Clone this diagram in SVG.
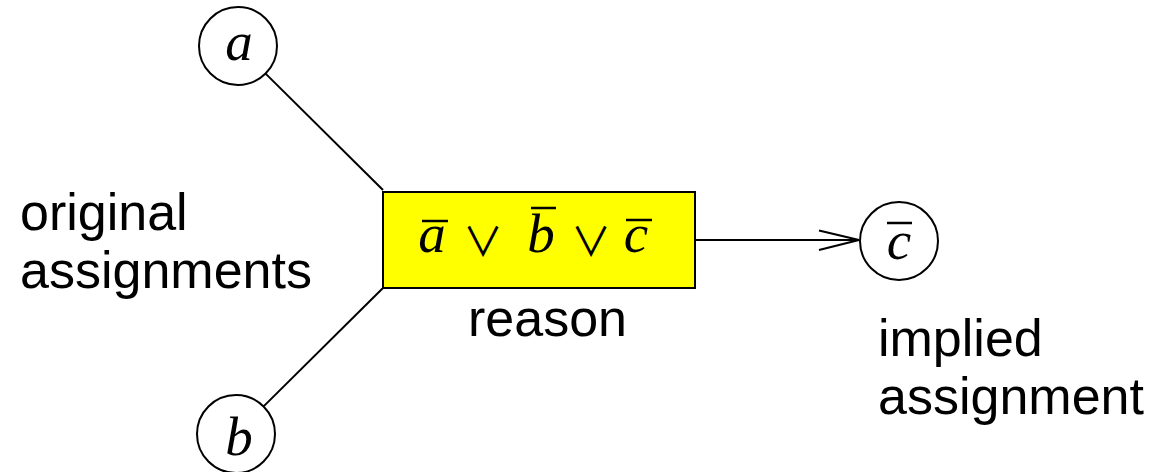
<svg xmlns="http://www.w3.org/2000/svg" width="1155" height="472" viewBox="0 0 1155 472">
<style>
.node{fill:#fff;stroke:#000;stroke-width:2}
.box{fill:#ffff00;stroke:#000;stroke-width:2}
.edge{fill:none;stroke:#000;stroke-width:2}
.bar{stroke:#000;stroke-width:2.5}
.lbl{font-family:"Liberation Sans",Arial,sans-serif;font-size:52px;fill:#000}
.math{font-family:"Liberation Serif","Times New Roman",serif;font-style:italic;font-size:55px;fill:#000}
.op{font-family:"Noto Sans CJK JP","DejaVu Sans",sans-serif;font-size:40px;font-weight:400;fill:#000}
</style>
<rect width="1155" height="472" fill="#fff"/>
<g id="connectors">
<line class="edge" x1="265.6" y1="73.6" x2="383" y2="190"/>
<line class="edge" x1="263.6" y1="406.4" x2="383" y2="288"/>
<line class="edge" x1="695" y1="240" x2="859" y2="240"/>
<polyline class="edge" points="819,230.5 859,240 819,250"/>
</g>
<g id="node-a">
<circle class="node" cx="238" cy="46" r="39"/>
<text class="math" x="239" y="60" text-anchor="middle">a</text>
</g>
<g id="node-b">
<circle class="node" cx="236" cy="434" r="39"/>
<text class="math" x="239" y="455" text-anchor="middle">b</text>
</g>
<g id="node-c">
<circle class="node" cx="899" cy="241" r="39"/>
<text class="math" x="899" y="259" text-anchor="middle">c</text>
<line class="bar" x1="887" y1="223" x2="912" y2="223"/>
</g>
<g id="node-reason">
<rect class="box" x="383" y="192" width="312" height="96"/>
<text class="math" x="432" y="252" text-anchor="middle">a</text>
<line class="bar" x1="422" y1="221" x2="448" y2="221"/>
<text class="op" x="483" y="256" text-anchor="middle">∨</text>
<text class="math" x="541" y="252" text-anchor="middle">b</text>
<line class="bar" x1="531" y1="208" x2="556" y2="208"/>
<text class="op" x="591" y="256" text-anchor="middle">∨</text>
<text class="math" x="636" y="252" text-anchor="middle">c</text>
<line class="bar" x1="626" y1="220" x2="652" y2="220"/>
</g>
<text class="lbl" x="20" y="230">original</text>
<text class="lbl" x="20" y="288">assignments</text>
<text class="lbl" x="468" y="336">reason</text>
<text class="lbl" x="878" y="356">implied</text>
<text class="lbl" x="878" y="414">assignment</text>
</svg>
